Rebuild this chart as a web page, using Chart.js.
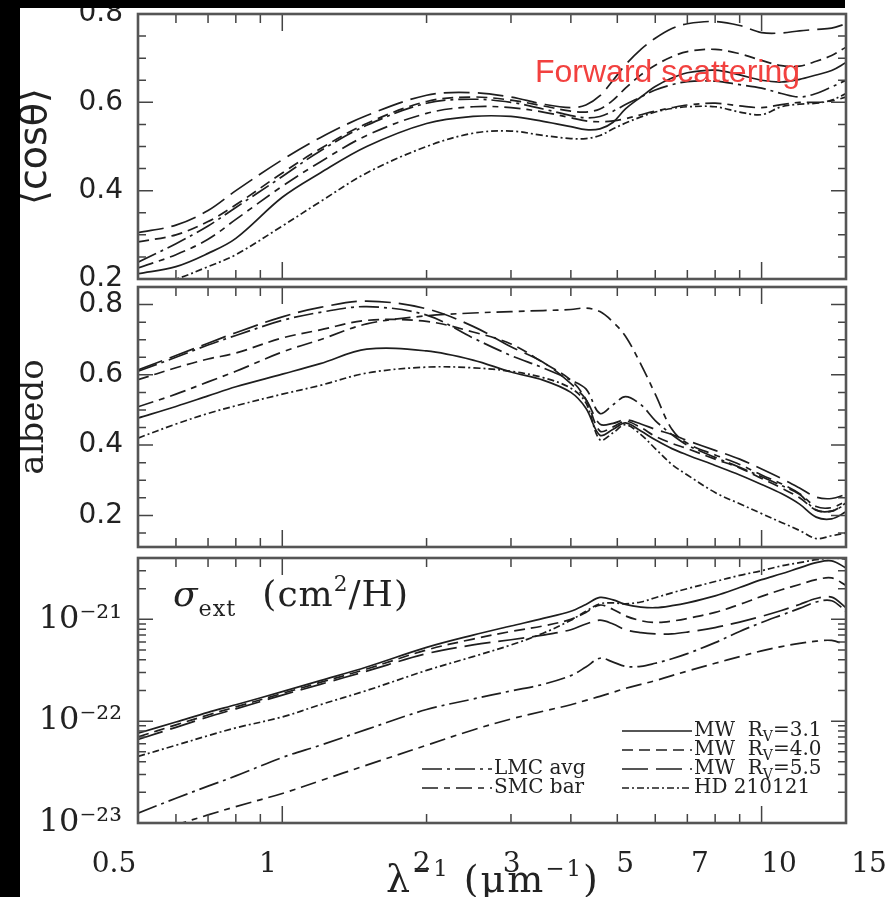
<!DOCTYPE html>
<html>
<head>
<meta charset="utf-8">
<script src="https://cdn.jsdelivr.net/npm/chart.js@4.4.1/dist/chart.umd.min.js"></script>
<style>
  html, body { margin: 0; padding: 0; background: #fff; }
  #wrap { position: relative; width: 894px; height: 897px; overflow: hidden; background: #fff; }
  #wrap canvas { position: absolute; left: 0; top: 0; }
  .txt { position: absolute; white-space: nowrap; color: #222; line-height: 1; }
  #xTitle { left: 386px; top: 857px; font: 38px 'DejaVu Serif'; letter-spacing: 2px; }
  #xTitle sup, #sigmaLabel sup { font-size: 0.6em; vertical-align: 0.7em; line-height: 0; }
  #sigmaLabel { left: 173px; top: 573px; font: 36px 'DejaVu Serif'; letter-spacing: 1px; }
  #sigmaLabel sub { font-size: 0.62em; vertical-align: -0.45em; line-height: 0; margin-right: 26px; }
  #fwd { left: 535px; top: 53px; font: 32px 'Liberation Sans'; color: #f2413f; }
  .bar { position: absolute; background: #000; }
</style>
</head>
<body>
<div id="wrap">
  <canvas id="cosChart" width="894" height="897"></canvas>
  <canvas id="albChart" width="894" height="897"></canvas>
  <canvas id="extChart" width="894" height="897"></canvas>
  <canvas id="axisChart" width="894" height="897"></canvas>
  <div class="txt" id="sigmaLabel"><i>σ</i><sub>ext</sub>(cm<sup>2</sup>/H)</div>
  <div class="txt" id="xTitle">λ<sup>−1</sup> (μm<sup>−1</sup>)</div>
  <div class="txt" id="fwd">Forward scattering</div>
  <div class="bar" style="left:0;top:0;width:20px;height:897px"></div>
  <div class="bar" style="left:0;top:0;width:845px;height:8px"></div>
</div>
<script>
// wavenumber grid (1/micron) shared by every curve
const waveNumber = [0.5, 0.6, 0.7, 0.8, 1, 1.2, 1.5, 2, 2.5, 3, 3.5, 4, 4.3, 4.6, 4.9, 5.2, 5.6, 6, 6.5, 7, 8, 9, 10, 11, 12, 13, 14, 15]

// ticks
const xTickLabels = [0.5, 1, 2, 3, 5, 7, 10, 15]
const xMajorTicks = [1, 10]
const xMinorTicks = [0.6, 0.7, 0.8, 0.9, 2, 3, 4, 5, 6, 7, 8, 9]
const cosTicks = [0.2, 0.4, 0.6, 0.8]
const cosMinor = [0.25, 0.3, 0.35, 0.45, 0.5, 0.55, 0.65, 0.7, 0.75]
const albTicks = [0.2, 0.4, 0.6, 0.8]
const albMinor = [0.15, 0.25, 0.3, 0.35, 0.45, 0.5, 0.55, 0.65, 0.7, 0.75, 0.85]
const extTicks = [1e-23, 1e-22, 1e-21]
const extTickLabels = ['10⁻²³', '10⁻²²', '10⁻²¹']
const extMinor = [2e-23, 3e-23, 4e-23, 5e-23, 6e-23, 7e-23, 8e-23, 9e-23,
                  2e-22, 3e-22, 4e-22, 5e-22, 6e-22, 7e-22, 8e-22, 9e-22,
                  2e-21, 3e-21, 4e-21]

// <cos theta>
const cosMW31 = [0.212, 0.228, 0.258, 0.292, 0.385, 0.44, 0.50, 0.552, 0.568, 0.568, 0.557, 0.545, 0.538, 0.54, 0.555, 0.585, 0.612, 0.636, 0.655, 0.667, 0.673, 0.662, 0.65, 0.646, 0.652, 0.662, 0.672, 0.69]
const cosMW40 = [0.284, 0.30, 0.33, 0.368, 0.44, 0.495, 0.552, 0.602, 0.612, 0.605, 0.592, 0.58, 0.578, 0.585, 0.605, 0.632, 0.662, 0.684, 0.703, 0.715, 0.72, 0.71, 0.695, 0.683, 0.682, 0.693, 0.706, 0.725]
const cosMW55 = [0.305, 0.322, 0.355, 0.40, 0.47, 0.52, 0.57, 0.616, 0.622, 0.612, 0.596, 0.588, 0.594, 0.615, 0.65, 0.685, 0.72, 0.745, 0.767, 0.778, 0.783, 0.774, 0.758, 0.757, 0.762, 0.765, 0.768, 0.778]
const cosLMC = [0.238, 0.28, 0.32, 0.362, 0.432, 0.49, 0.548, 0.598, 0.607, 0.60, 0.585, 0.57, 0.565, 0.568, 0.58, 0.595, 0.612, 0.628, 0.64, 0.647, 0.648, 0.64, 0.632, 0.62, 0.612, 0.62, 0.635, 0.65]
const cosSMC = [0.225, 0.255, 0.29, 0.335, 0.41, 0.465, 0.525, 0.575, 0.59, 0.588, 0.578, 0.565, 0.558, 0.556, 0.558, 0.563, 0.572, 0.58, 0.588, 0.594, 0.598, 0.592, 0.588, 0.595, 0.60, 0.60, 0.603, 0.612]
const cosHD = [0.18, 0.20, 0.228, 0.255, 0.32, 0.375, 0.44, 0.50, 0.53, 0.535, 0.525, 0.518, 0.518, 0.525, 0.54, 0.553, 0.567, 0.578, 0.586, 0.59, 0.59, 0.578, 0.572, 0.59, 0.596, 0.598, 0.605, 0.62]

// albedo
const albMW31 = [0.477, 0.51, 0.54, 0.566, 0.602, 0.632, 0.673, 0.668, 0.642, 0.608, 0.585, 0.55, 0.505, 0.428, 0.445, 0.463, 0.44, 0.415, 0.39, 0.372, 0.342, 0.315, 0.288, 0.262, 0.232, 0.195, 0.19, 0.21]
const albMW40 = [0.586, 0.62, 0.645, 0.662, 0.705, 0.728, 0.755, 0.752, 0.722, 0.688, 0.635, 0.585, 0.53, 0.44, 0.452, 0.468, 0.45, 0.425, 0.405, 0.39, 0.36, 0.335, 0.305, 0.278, 0.25, 0.215, 0.212, 0.235]
const albMW55 = [0.614, 0.655, 0.69, 0.72, 0.765, 0.792, 0.81, 0.788, 0.738, 0.68, 0.636, 0.575, 0.53, 0.46, 0.462, 0.472, 0.46, 0.445, 0.43, 0.413, 0.385, 0.36, 0.332, 0.305, 0.278, 0.252, 0.248, 0.26]
const albLMC = [0.61, 0.65, 0.685, 0.712, 0.755, 0.778, 0.794, 0.77, 0.705, 0.655, 0.62, 0.585, 0.56, 0.49, 0.515, 0.538, 0.515, 0.47, 0.43, 0.40, 0.365, 0.337, 0.31, 0.285, 0.26, 0.215, 0.212, 0.232]
const albSMC = [0.509, 0.545, 0.58, 0.61, 0.665, 0.70, 0.745, 0.768, 0.776, 0.78, 0.783, 0.786, 0.79, 0.78, 0.75, 0.71, 0.63, 0.545, 0.445, 0.405, 0.372, 0.345, 0.315, 0.29, 0.262, 0.225, 0.222, 0.24]
const albHD = [0.42, 0.46, 0.49, 0.512, 0.545, 0.57, 0.605, 0.622, 0.62, 0.61, 0.592, 0.562, 0.52, 0.415, 0.435, 0.458, 0.43, 0.39, 0.345, 0.315, 0.265, 0.233, 0.205, 0.18, 0.157, 0.134, 0.142, 0.15]

// sigma_ext (cm^2/H)
const extMW31 = [7.6e-23, 9.8e-23, 1.22e-22, 1.45e-22, 1.95e-22, 2.5e-22, 3.4e-22, 5.3e-22, 7.0e-22, 8.6e-22, 1.02e-21, 1.2e-21, 1.4e-21, 1.64e-21, 1.55e-21, 1.4e-21, 1.32e-21, 1.3e-21, 1.36e-21, 1.45e-21, 1.7e-21, 2.05e-21, 2.45e-21, 2.8e-21, 3.2e-21, 3.6e-21, 3.75e-21, 3.2e-21]
const extMW40 = [7.0e-23, 9.2e-23, 1.15e-22, 1.38e-22, 1.87e-22, 2.4e-22, 3.25e-22, 5.0e-22, 6.4e-22, 7.6e-22, 8.6e-22, 1.0e-21, 1.17e-21, 1.38e-21, 1.25e-21, 1.08e-21, 9.7e-22, 9.3e-22, 9.6e-22, 1.02e-21, 1.17e-21, 1.4e-21, 1.68e-21, 1.95e-21, 2.2e-21, 2.45e-21, 2.55e-21, 2.15e-21]
const extMW55 = [6.6e-23, 8.7e-23, 1.1e-22, 1.32e-22, 1.8e-22, 2.3e-22, 3.1e-22, 4.6e-22, 5.6e-22, 6.3e-22, 7.0e-22, 7.9e-22, 9.0e-22, 9.8e-22, 9.0e-22, 7.9e-22, 7.4e-22, 7.2e-22, 7.2e-22, 7.5e-22, 8.3e-22, 9.4e-22, 1.07e-21, 1.22e-21, 1.4e-21, 1.6e-21, 1.65e-21, 1.3e-21]
const extLMC = [1.25e-23, 1.75e-23, 2.3e-23, 2.9e-23, 4.4e-23, 5.8e-23, 8.3e-23, 1.3e-22, 1.65e-22, 1.98e-22, 2.3e-22, 2.8e-22, 3.4e-22, 4.15e-22, 3.8e-22, 3.45e-22, 3.45e-22, 3.7e-22, 4.1e-22, 4.6e-22, 5.9e-22, 7.6e-22, 9.3e-22, 1.1e-21, 1.28e-21, 1.48e-21, 1.52e-21, 1.2e-21]
const extSMC = [7.5e-24, 9.6e-24, 1.2e-23, 1.45e-23, 1.95e-23, 2.6e-23, 3.7e-23, 5.8e-23, 8.2e-23, 1.05e-22, 1.25e-22, 1.45e-22, 1.6e-22, 1.75e-22, 1.92e-22, 2.1e-22, 2.3e-22, 2.5e-22, 2.8e-22, 3.1e-22, 3.7e-22, 4.3e-22, 4.9e-22, 5.4e-22, 5.8e-22, 6.1e-22, 6.2e-22, 5.6e-22]
const extHD = [4.5e-23, 5.8e-23, 7.2e-23, 8.6e-23, 1.1e-22, 1.45e-22, 2.0e-22, 3.15e-22, 4.3e-22, 5.6e-22, 7.3e-22, 9.8e-22, 1.2e-21, 1.42e-21, 1.45e-21, 1.42e-21, 1.48e-21, 1.63e-21, 1.82e-21, 2.0e-21, 2.35e-21, 2.7e-21, 3.0e-21, 3.35e-21, 3.6e-21, 3.85e-21, 4.0e-21, 3.9e-21]

// line style of each model (dash pattern)
const lineStyles = {
  'MW R_V=3.1': [],
  'MW R_V=4.0': [11, 6],
  'MW R_V=5.5': [26, 8],
  'LMC avg': [20, 5, 3, 5],
  'SMC bar': [16, 6, 6, 6],
  'HD 210121': [7, 3, 2, 3]
}
const legendRight = ['MW R_V=3.1', 'MW R_V=4.0', 'MW R_V=5.5', 'HD 210121']
const legendLeft = ['LMC avg', 'SMC bar']

const PLOT_RIGHT = 48   // gap right of the frame
const AXIS_W = 138      // frame left edge

function makeDatasets(list) {
  return list.map(([name, values]) => ({
    label: name,
    data: values.map((v, i) => ({ x: waveNumber[i], y: v })),
    borderColor: '#1e1e1e',
    borderWidth: 1.7,
    borderDash: lineStyles[name],
    pointRadius: 0,
    tension: 0.35,
    fill: false
  }))
}

// frame + inward ticks on all four sides
function makeFrame(yMajor, yMinor) {
  return {
    id: 'frameTicks',
    afterDatasetsDraw(chart) {
      const { ctx, chartArea: a } = chart
      const xs = chart.scales.x, ys = chart.scales.y
      ctx.save()
      ctx.strokeStyle = '#444'
      ctx.lineWidth = 1.5
      ctx.beginPath()
      const xTick = (v, len) => {
        const px = xs.getPixelForValue(v)
        ctx.moveTo(px, a.bottom); ctx.lineTo(px, a.bottom - len)
        ctx.moveTo(px, a.top); ctx.lineTo(px, a.top + len)
      }
      const yTick = (v, len) => {
        const py = ys.getPixelForValue(v)
        if (py < a.top - 0.5 || py > a.bottom + 0.5) return
        ctx.moveTo(a.left, py); ctx.lineTo(a.left + len, py)
        ctx.moveTo(a.right, py); ctx.lineTo(a.right - len, py)
      }
      xMajorTicks.forEach(v => xTick(v, 17))
      xMinorTicks.forEach(v => xTick(v, 9))
      yMajor.forEach(v => yTick(v, 15))
      yMinor.forEach(v => yTick(v, 8))
      ctx.stroke()
      ctx.lineWidth = 2.6
      ctx.strokeStyle = '#555'
      ctx.strokeRect(a.left, a.top, a.right - a.left, a.bottom - a.top)
      ctx.restore()
    }
  }
}

// "MW R_V=3.1" with a subscript V
function drawLabel(ctx, text, x, y) {
  const parts = text.split('_')
  ctx.font = '20px "DejaVu Serif"'
  ctx.fillText(parts[0], x, y)
  if (parts.length < 2) return
  x += ctx.measureText(parts[0]).width
  ctx.font = '14px "DejaVu Serif"'
  ctx.fillText(parts[1][0], x, y + 6)
  x += ctx.measureText(parts[1][0]).width
  ctx.font = '20px "DejaVu Serif"'
  ctx.fillText(parts[1].slice(1), x, y)
}

const bottomLegend = {
  id: 'bottomLegend',
  afterDraw(chart) {
    const { ctx, chartArea: a } = chart
    const cols = [
      { names: legendRight, x0: a.right - 224, row0: 0 },
      { names: legendLeft, x0: a.right - 424, row0: 2 }
    ]
    ctx.save()
    ctx.fillStyle = '#222'
    ctx.textBaseline = 'middle'
    cols.forEach(col => col.names.forEach((name, k) => {
      const ds = chart.data.datasets.find(d => d.label === name)
      const y = a.bottom - 92 + (col.row0 + k) * 19
      ctx.setLineDash(ds.borderDash)
      ctx.lineWidth = 1.6
      ctx.strokeStyle = ds.borderColor
      ctx.beginPath()
      ctx.moveTo(col.x0, y)
      ctx.lineTo(col.x0 + 70, y)
      ctx.stroke()
      ctx.setLineDash([])
      drawLabel(ctx, name.replace('MW ', 'MW  '), col.x0 + 72, y)
    }))
    ctx.restore()
  }
}

function yAxis(extra) {
  return Object.assign({
    afterFit: s => {
      s.width = AXIS_W
      // labels may hang over the frame edge, as in the original
      s.paddingTop = 0
      s.paddingBottom = 0
    },
    grid: { display: false, drawTicks: false },
    border: { display: false }
  }, extra)
}

function panel(id, datasets, yScale, padTop, padBottom, plugins) {
  return new Chart(document.getElementById(id), {
    type: 'line',
    data: { datasets },
    options: {
      responsive: false,
      animation: false,
      devicePixelRatio: 1,
      layout: { padding: { top: padTop, bottom: padBottom, left: 0, right: PLOT_RIGHT } },
      plugins: { legend: { display: false }, tooltip: { enabled: false } },
      scales: {
        x: { type: 'logarithmic', min: 0.5, max: 15, display: false },
        y: yScale
      }
    },
    plugins
  })
}

panel('cosChart', makeDatasets([
  ['MW R_V=3.1', cosMW31], ['MW R_V=4.0', cosMW40], ['MW R_V=5.5', cosMW55],
  ['LMC avg', cosLMC], ['SMC bar', cosSMC], ['HD 210121', cosHD]
]), yAxis({
  type: 'linear', min: 0.2, max: 0.8,
  afterBuildTicks: s => { s.ticks = cosTicks.map(v => ({ value: v })) },
  ticks: { padding: 15, color: '#222', font: { family: 'DejaVu Sans', size: 28 }, callback: v => v.toFixed(1) },
  title: { display: true, text: '⟨cosθ⟩', color: '#222', font: { family: 'DejaVu Sans', size: 38 }, padding: { top: 13, bottom: 0 } }
}), 14, 897 - 279, [makeFrame(cosTicks, cosMinor)])

panel('albChart', makeDatasets([
  ['MW R_V=3.1', albMW31], ['MW R_V=4.0', albMW40], ['MW R_V=5.5', albMW55],
  ['LMC avg', albLMC], ['SMC bar', albSMC], ['HD 210121', albHD]
]), yAxis({
  type: 'linear', min: 0.11, max: 0.85,
  afterBuildTicks: s => { s.ticks = albTicks.map(v => ({ value: v })) },
  ticks: { padding: 15, color: '#222', font: { family: 'DejaVu Sans', size: 28 }, callback: v => v.toFixed(1) },
  title: { display: true, text: 'albedo', color: '#222', font: { family: 'DejaVu Serif', size: 34 }, padding: { top: 14, bottom: 0 } }
}), 287, 897 - 547, [makeFrame(albTicks, albMinor)])

panel('extChart', makeDatasets([
  ['MW R_V=3.1', extMW31], ['MW R_V=4.0', extMW40], ['MW R_V=5.5', extMW55],
  ['LMC avg', extLMC], ['SMC bar', extSMC], ['HD 210121', extHD]
]), yAxis({
  type: 'logarithmic', min: 1e-23, max: 4e-21,
  afterBuildTicks: s => { s.ticks = extTicks.map(v => ({ value: v })) },
  ticks: { padding: 16, color: '#222', font: { family: 'DejaVu Serif', size: 32 }, callback: (v, i) => extTickLabels[i] }
}), 558, 897 - 823, [makeFrame(extTicks, extMinor), bottomLegend])

// x tick labels (the figure's labels sit on a slightly wider span than its frame)
new Chart(document.getElementById('axisChart'), {
  type: 'line',
  data: { datasets: [] },
  options: {
    responsive: false,
    animation: false,
    devicePixelRatio: 1,
    layout: { padding: { top: 800, bottom: 15, left: 114, right: 25 } },
    plugins: { legend: { display: false }, tooltip: { enabled: false } },
    scales: {
      x: {
        type: 'logarithmic', min: 0.5, max: 15,
        afterBuildTicks: s => { s.ticks = xTickLabels.map(v => ({ value: v })) },
        grid: { display: false, drawTicks: false },
        border: { display: false },
        ticks: { padding: 0, maxRotation: 0, autoSkip: false, color: '#222', font: { family: 'DejaVu Serif', size: 28 }, callback: v => String(v) }
      },
      y: { display: false }
    }
  }
})
</script>
</body>
</html>
